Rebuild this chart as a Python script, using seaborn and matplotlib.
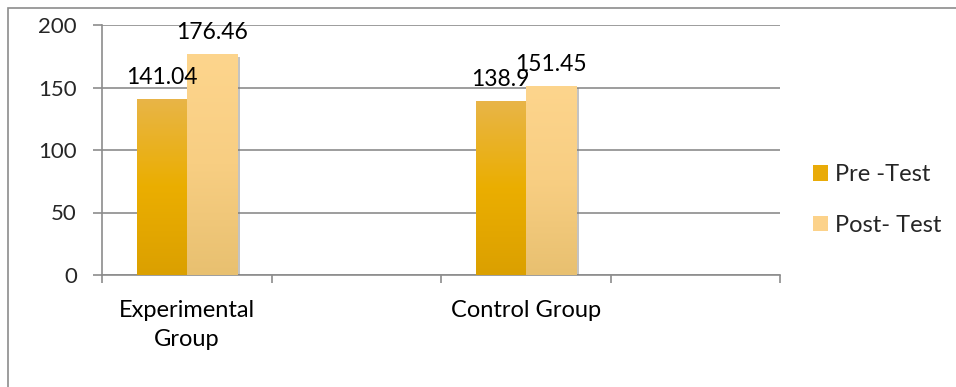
import numpy as np
import pandas as pd
import seaborn as sns
import matplotlib.pyplot as plt
import matplotlib.patheffects as pe
from matplotlib.colors import LinearSegmentedColormap
from matplotlib.patches import Rectangle, Patch

# Scores per group
groups = ["Experimental\nGroup", "Control Group"]
series = ["Pre -Test", "Post- Test"]
pre_test = [141.04, 138.9]
post_test = [176.46, 151.45]
y_ticks = [0, 50, 100, 150, 200]

df = pd.DataFrame({
    "group": groups * 2,
    "series": [series[0]] * len(groups) + [series[1]] * len(groups),
    "score": pre_test + post_test,
})

# Four category slots: each group is followed by an empty slot
slots = [groups[0], "gap_a", groups[1], "gap_b"]

sns.set_theme(style="white")
plt.rcParams["font.family"] = ["Lato", "DejaVu Sans"]

base_colors = ["#E9AB08", "#FCD28A"]
gradients = {
    series[0]: LinearSegmentedColormap.from_list(
        "pre", ["#DBA000", "#EBAE00", "#E8B548"]),
    series[1]: LinearSegmentedColormap.from_list(
        "post", ["#E8C070", "#F8CE82", "#FDD58D"]),
}

fig = plt.figure(figsize=(9.56, 3.87), dpi=100)
ax = fig.add_axes([102 / 956, 112 / 387, 678 / 956, 250 / 387])

sns.barplot(data=df, x="group", y="score", hue="series", order=slots,
            hue_order=series, palette=base_colors, saturation=1,
            width=0.59, gap=0, linewidth=0, edgecolor="none",
            legend=False, err_kws={"linewidth": 0}, ax=ax)

# Gradient fill and soft drop shadow on every bar
grad = np.linspace(0, 1, 256).reshape(-1, 1)
for container, name in zip(ax.containers, series):
    for bar in container:
        bar.set_path_effects([
            pe.SimplePatchShadow(offset=(2.5, -1.5), shadow_rgbFace="#7a7a7a", alpha=0.45),
            pe.Normal(),
        ])
        bar.set_zorder(3)
        x0, w, h = bar.get_x(), bar.get_width(), bar.get_height()
        im = ax.imshow(grad, cmap=gradients[name], origin="lower", aspect="auto",
                       extent=(x0, x0 + w, 0, h), zorder=4)
        im.set_clip_path(bar)
    ax.bar_label(container, fmt="{:g}", padding=8, fontsize=16.5, color="black", zorder=6)

ax.set_xlim(-0.5, 3.5)
ax.set_ylim(0, 200)

# Axes styling
ax.set_yticks(y_ticks)
ax.yaxis.grid(True, color="#8C8C8C", linewidth=1.2)
ax.set_axisbelow(True)
ax.set_xticks([0, 2])
ax.set_xticklabels(groups, fontsize=17, linespacing=1.45)
ax.set_xticks([-0.5, 0.5, 1.5, 2.5, 3.5], minor=True)
ax.tick_params(axis="x", which="major", length=0, pad=18, colors="black")
ax.tick_params(axis="x", which="minor", bottom=True, length=6, width=1.2,
               color="#8C8C8C", direction="out")
ax.tick_params(axis="y", which="major", left=True, length=6.5, width=1.2,
               color="#8C8C8C", pad=11.5, labelsize=16, direction="out")
ax.set_xlabel("")
ax.set_ylabel("")
for side in ["top", "right"]:
    ax.spines[side].set_visible(False)
for side in ["left", "bottom"]:
    ax.spines[side].set_color("#8C8C8C")
    ax.spines[side].set_linewidth(1.2)

# Legend
handles = [Patch(facecolor=c, edgecolor="none") for c in base_colors]
fig.legend(handles, series, loc="center left",
           bbox_to_anchor=(813 / 956, 1 - 200 / 387), frameon=False,
           borderpad=0, borderaxespad=0, fontsize=17, handlelength=0.64,
           handleheight=0.64, handletextpad=0.3, labelspacing=1.25)

# Chart area border
fig.patches.append(Rectangle((7.5 / 956, -0.5), 2, 0.5 + 1 - 8 / 387,
                             transform=fig.transFigure, fill=False,
                             edgecolor="#8C8C8C", linewidth=1.2))

fig.savefig("out.png", dpi=100, facecolor="white")
